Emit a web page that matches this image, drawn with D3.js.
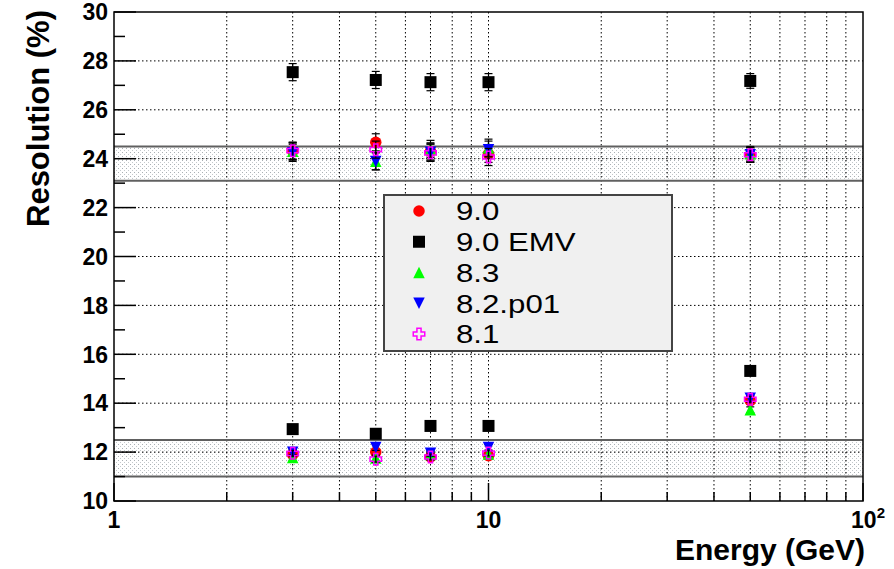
<!DOCTYPE html>
<html>
<head>
<meta charset="utf-8">
<script src="https://cdn.jsdelivr.net/npm/d3@7"></script>
<style>
  body { margin: 0; background: #fff; }
  svg { display: block; font-family: "Liberation Sans", Arial, Helvetica, sans-serif; }
</style>
</head>
<body>
<svg id="chart" width="894" height="569"></svg>
<script>
// energies (GeV)
const energies = [3, 5, 7, 10, 50];

// upper group of points
const v90Top  = [24.30, 24.67, 24.30, 24.20, 24.15];
const emvTop  = [27.54, 27.22, 27.13, 27.13, 27.18];
const v83Top  = [24.30, 23.90, 24.40, 24.45, 24.20];
const v82Top  = [24.24, 23.89, 24.26, 24.37, 24.16];
const v81Top  = [24.33, 24.37, 24.24, 24.07, 24.16];
const errTop  = [0.35, 0.35, 0.35, 0.35, 0.30];

// lower group of points
const v90Bot  = [11.90, 12.00, 11.80, 11.85, 14.10];
const emvBot  = [12.94, 12.75, 13.07, 13.07, 15.32];
const v83Bot  = [11.78, 11.76, 11.90, 11.92, 13.73];
const v82Bot  = [11.99, 12.19, 11.95, 12.19, 14.20];
const v81Bot  = [11.95, 11.71, 11.80, 11.96, 14.16];
const errBot  = [0.12, 0.12, 0.12, 0.12, 0.12];

// shaded bands [low, high]
const bands = [[23.1, 24.5], [11.0, 12.5]];

const yTicks = d3.range(10, 31, 2);
const yMinor = d3.range(11, 30, 2);
const xMajor = [1, 10, 100];
const xMinor = [2, 3, 4, 5, 6, 7, 8, 9, 20, 30, 40, 50, 60, 70, 80, 90];

const series = [
  { name: '9.0',     shape: 'circle', color: '#ff0000', top: v90Top, bot: v90Bot },
  { name: '9.0 EMV', shape: 'square', color: '#000000', top: emvTop, bot: emvBot },
  { name: '8.3',     shape: 'up',     color: '#00ff00', top: v83Top, bot: v83Bot },
  { name: '8.2.p01', shape: 'down',   color: '#0000ff', top: v82Top, bot: v82Bot },
  { name: '8.1',     shape: 'cross',  color: '#ff00ff', top: v81Top, bot: v81Bot }
];

const margin = { top: 12, right: 31, bottom: 68, left: 114 };
const W = 894, H = 569;
const width = W - margin.left - margin.right;
const height = H - margin.top - margin.bottom;

const svg = d3.select('#chart');

// stipple fill for the bands
const defs = svg.append('defs');
const pat = defs.append('pattern')
  .attr('id', 'dots')
  .attr('patternUnits', 'userSpaceOnUse')
  .attr('width', 4).attr('height', 4);
pat.append('rect').attr('width', 4).attr('height', 4).attr('fill', '#fff');
pat.append('rect').attr('x', 0).attr('y', 0).attr('width', 1).attr('height', 1).attr('fill', '#aab0b4');
pat.append('rect').attr('x', 2).attr('y', 2).attr('width', 1).attr('height', 1).attr('fill', '#c4c9cc');

const g = svg.append('g').attr('transform', `translate(${margin.left},${margin.top})`);

const x = d3.scaleLog().domain([1, 100]).range([0, width]);
const y = d3.scaleLinear().domain([10, 30]).range([height, 0]);

const gridX = xMajor.concat(xMinor).filter(d => d > 1 && d < 100);
const gridY = yTicks.filter(d => d > 10 && d < 30);

// bands (fill first, grid over it, then edges)
const bandFill = g.append('g');
bands.forEach(b => {
  bandFill.append('rect')
    .attr('x', 0).attr('width', width)
    .attr('y', y(b[1])).attr('height', y(b[0]) - y(b[1]))
    .attr('fill', 'url(#dots)');
});

// grid
g.append('g').selectAll('line')
  .data(gridX)
  .join('line')
  .attr('x1', d => x(d)).attr('x2', d => x(d))
  .attr('y1', 0).attr('y2', height)
  .attr('stroke', '#000').attr('stroke-width', 1)
  .attr('stroke-dasharray', '1.5,2.5');

g.append('g').selectAll('line')
  .data(gridY)
  .join('line')
  .attr('x1', 0).attr('x2', width)
  .attr('y1', d => y(d)).attr('y2', d => y(d))
  .attr('stroke', '#000').attr('stroke-width', 1)
  .attr('stroke-dasharray', '1.5,2.5');

// band edges
g.append('g').selectAll('line')
  .data(bands.flat())
  .join('line')
  .attr('x1', 0).attr('x2', width)
  .attr('y1', d => y(d)).attr('y2', d => y(d))
  .attr('stroke', '#606060').attr('stroke-width', 2);

// ticks
g.append('g').selectAll('line').data(yTicks).join('line')
  .attr('x1', 0).attr('x2', 22).attr('y1', d => y(d)).attr('y2', d => y(d))
  .attr('stroke', '#000').attr('stroke-width', 1.5);
g.append('g').selectAll('line').data(yMinor).join('line')
  .attr('x1', 0).attr('x2', 11).attr('y1', d => y(d)).attr('y2', d => y(d))
  .attr('stroke', '#000').attr('stroke-width', 1.5);
g.append('g').selectAll('line').data(xMajor).join('line')
  .attr('x1', d => x(d)).attr('x2', d => x(d)).attr('y1', height).attr('y2', height - 18)
  .attr('stroke', '#000').attr('stroke-width', 1.5);
g.append('g').selectAll('line').data(xMinor).join('line')
  .attr('x1', d => x(d)).attr('x2', d => x(d)).attr('y1', height).attr('y2', height - 9)
  .attr('stroke', '#000').attr('stroke-width', 1.5);

// frame
g.append('rect').attr('width', width).attr('height', height)
  .attr('fill', 'none').attr('stroke', '#000').attr('stroke-width', 1.5);

// tick labels
g.append('g').selectAll('text').data(yTicks).join('text')
  .attr('x', -6).attr('y', d => y(d)).attr('dy', '0.36em')
  .attr('text-anchor', 'end')
  .attr('font-size', 23).attr('font-weight', 'bold')
  .text(d => d);

const xl = g.append('g').selectAll('text').data(xMajor).join('text')
  .attr('x', d => x(d)).attr('y', height + 27)
  .attr('text-anchor', 'middle')
  .attr('font-size', 23).attr('font-weight', 'bold');
xl.filter(d => d < 100).text(d => d);
xl.filter(d => d === 100).each(function() {
  const t = d3.select(this);
  t.append('tspan').text('10');
  t.append('tspan').attr('font-size', 15).attr('dy', -10).text('2');
}).attr('dx', 5);

// axis titles
svg.append('text')
  .attr('x', margin.left + width + 2).attr('y', 560)
  .attr('text-anchor', 'end')
  .attr('font-size', 30).attr('font-weight', 'bold')
  .text('Energy (GeV)');

svg.append('text')
  .attr('transform', `translate(49,${margin.top - 2}) rotate(-90)`)
  .attr('text-anchor', 'end')
  .attr('font-size', 31).attr('font-weight', 'bold')
  .text('Resolution (%)');

// markers
function drawMarker(sel, shape, color, s) {
  const h = s / 2;
  if (shape === 'circle') {
    sel.append('circle').attr('r', h).attr('fill', color);
  } else if (shape === 'square') {
    sel.append('rect').attr('x', -h).attr('y', -h).attr('width', s).attr('height', s).attr('fill', color);
  } else if (shape === 'up') {
    sel.append('path').attr('d', `M0,${-h}L${h},${h}L${-h},${h}Z`).attr('fill', color);
  } else if (shape === 'down') {
    sel.append('path').attr('d', `M0,${h}L${h},${-h}L${-h},${-h}Z`).attr('fill', color);
  } else if (shape === 'cross') {
    const a = s * 0.18;
    sel.append('path')
      .attr('d', `M${-a},${-h}H${a}V${-a}H${h}V${a}H${a}V${h}H${-a}V${a}H${-h}V${-a}H${-a}Z`)
      .attr('fill', 'none').attr('stroke', color).attr('stroke-width', 1.5);
  }
}

const pts = g.append('g');
series.forEach(s => {
  [[s.top, errTop], [s.bot, errBot]].forEach(([vals, errs]) => {
    vals.forEach((v, i) => {
      const px = x(energies[i]), py = y(v);
      const e = pts.append('g');
      e.append('line')
        .attr('x1', px).attr('x2', px)
        .attr('y1', y(v - errs[i])).attr('y2', y(v + errs[i]))
        .attr('stroke', '#000').attr('stroke-width', 1.2);
      [v - errs[i], v + errs[i]].forEach(ev => {
        e.append('line')
          .attr('x1', px - 4).attr('x2', px + 4)
          .attr('y1', y(ev)).attr('y2', y(ev))
          .attr('stroke', '#000').attr('stroke-width', 1.2);
      });
      const m = pts.append('g').attr('transform', `translate(${px},${py})`);
      drawMarker(m, s.shape, s.color, s.shape === 'square' ? 12 : 11.5);
    });
  });
});

// legend
const legend = svg.append('g').attr('transform', 'translate(384,195)');
legend.append('rect').attr('width', 288).attr('height', 156)
  .attr('fill', '#f0f0f0').attr('stroke', '#444').attr('stroke-width', 2);
const rowY = d3.scalePoint().domain(series.map(d => d.name)).range([16, 139]);
series.forEach(s => {
  const r = legend.append('g').attr('transform', `translate(35,${rowY(s.name)})`);
  drawMarker(r, s.shape, s.color, s.shape === 'square' ? 12 : 11.5);
  const t = legend.append('text')
    .attr('x', 72).attr('y', rowY(s.name)).attr('dy', '0.36em')
    .attr('font-size', 26)
    .text(s.name);
  // glyphs in the reference are wider than Liberation Sans at this height
  const w = t.node().getComputedTextLength();
  t.attr('textLength', w * 1.2).attr('lengthAdjust', 'spacingAndGlyphs');
});
</script>
</body>
</html>
